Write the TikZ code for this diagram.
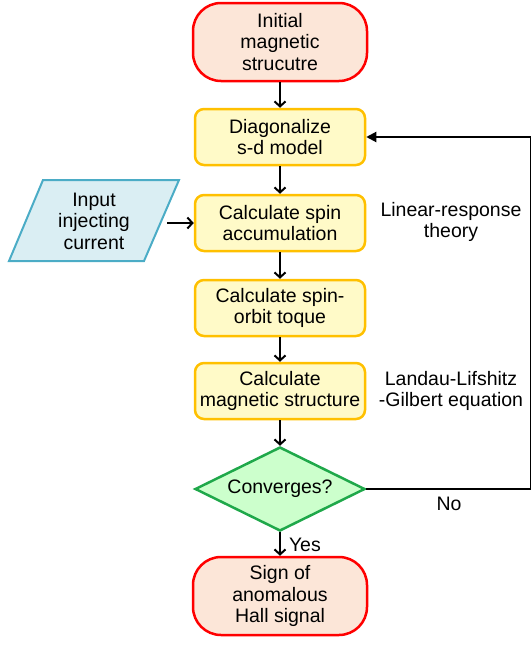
\documentclass[tikz,border=0pt]{standalone}
\usepackage{fontspec}
\setmainfont{Liberation Sans}
\usetikzlibrary{shapes.geometric,arrows.meta}
\definecolor{termfill}{HTML}{FCE6D8}
\definecolor{termdraw}{HTML}{FF0000}
\definecolor{procfill}{HTML}{FFFAC8}
\definecolor{procdraw}{HTML}{FFC000}
\definecolor{decfill}{HTML}{CCFFCC}
\definecolor{decdraw}{HTML}{1FA84A}
\definecolor{infill}{HTML}{DAEEF3}
\definecolor{indraw}{HTML}{4BACC6}
\begin{document}
\begin{tikzpicture}[x=1pt,y=-1pt,
  font=\fontsize{19.5}{21.5}\selectfont,
  term/.style={draw=termdraw, line width=2.5pt, fill=termfill, rounded corners=28pt,
    minimum width=174pt, minimum height=78pt, align=center, inner sep=0pt},
  proc/.style={draw=procdraw, line width=2.5pt, fill=procfill, rounded corners=9pt,
    minimum width=170pt, minimum height=56pt, align=center, inner sep=0pt},
  dec/.style={draw=decdraw, line width=2.5pt, fill=decfill, diamond, aspect=2,
    minimum width=170pt, minimum height=84pt, inner sep=0pt},
  arr/.style={line width=2pt, -{Straight Barb[length=5pt,width=11pt]}},
  loopline/.style={line width=1.2pt},
  looparr/.style={line width=2pt, -{Triangle[length=10pt,width=10pt]}},
  lbl/.style={align=center, inner sep=0pt}
]
\useasboundingbox (0,0) rectangle (532,645);

\node[term] (start) at (280,42) {Initial\\magnetic\\strucutre};
\node[proc] (diag) at (280,137) {Diagonalize\\s-d model};
\node[proc] (acc) at (280,223) {Calculate spin\\accumulation};
\node[proc] (soc) at (280,308) {Calculate spin-\\orbit toque};
\node[proc] (mag) at (280,391) {Calculate\\magnetic structure};
\node[dec] (conv) at (280,489) {Converges?};
\node[term] (fin) at (280,596) {Sign of\\anomalous\\Hall signal};

\filldraw[draw=indraw, fill=infill, line width=2pt] (43,180) -- (179,180) -- (144,261) -- (9,261) -- cycle;
\node[lbl] (inp) at (94,221) {Input\\injecting\\current};
\coordinate (inR) at (167,223);

\node[lbl] (lr) at (451,222) {Linear-response\\theory};
\node[lbl] (llg) at (451,391) {Landau-Lifshitz\\-Gilbert equation};

\draw[arr] (start) -- (diag);
\draw[arr] (diag) -- (acc);
\draw[arr] (acc) -- (soc);
\draw[arr] (soc) -- (mag);
\draw[arr] (mag) -- (conv);
\draw[arr] (conv) -- node[right, inner sep=0pt, xshift=8pt, yshift=-1pt] (yes) {Yes} (fin);
\draw[arr] (inR) -- (acc.west);

\coordinate (c1) at (530.5,489);
\coordinate (c2) at (530.5,137);
\draw[loopline] (conv.east) -- (c1) -- (c2);
\draw[looparr] (c2) -- (diag.east);
\node[lbl] (no) at (449,504) {No};
\end{tikzpicture}
\end{document}
